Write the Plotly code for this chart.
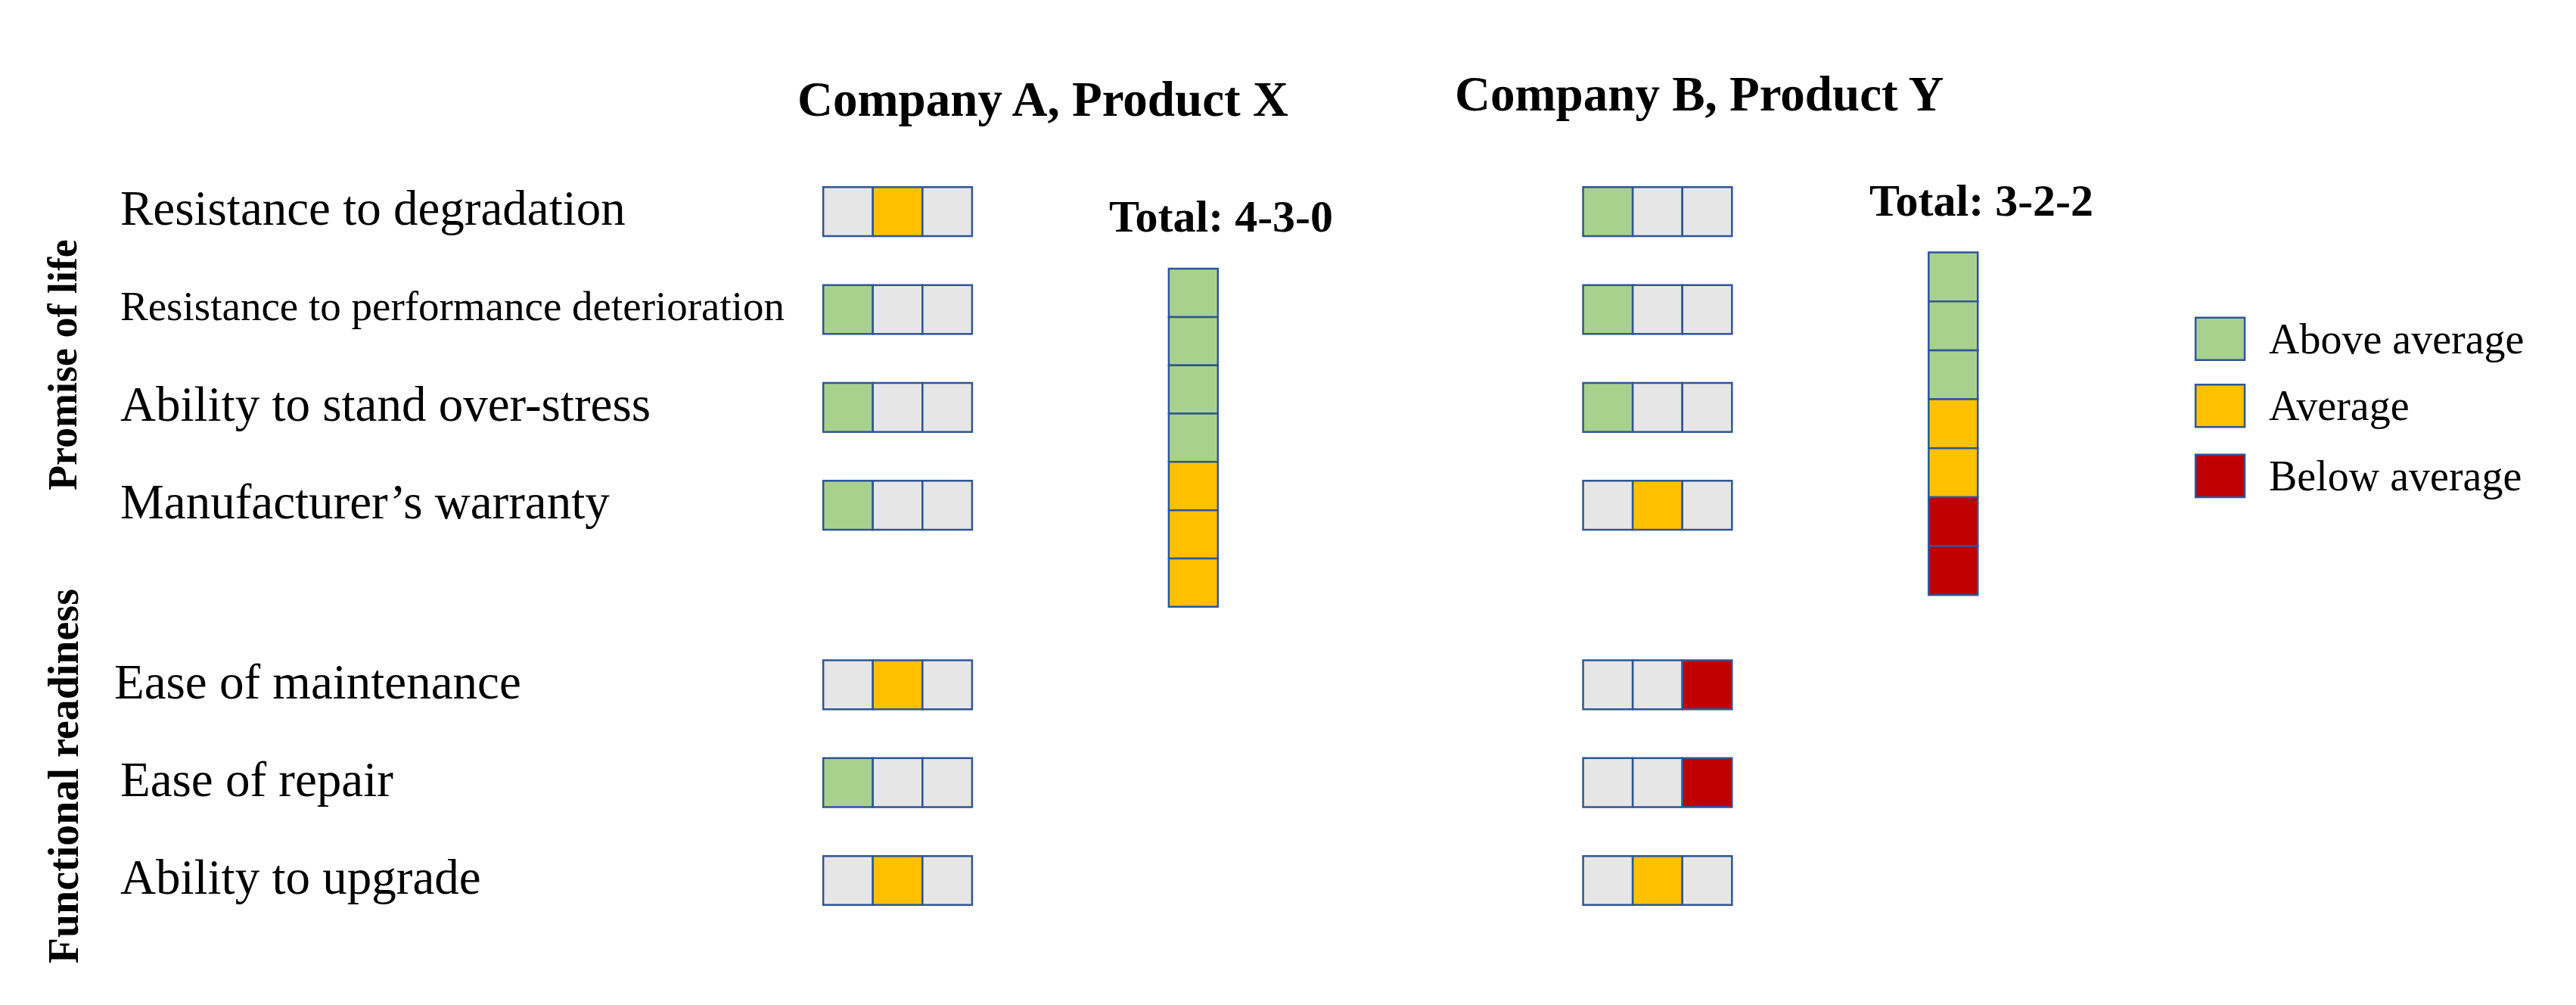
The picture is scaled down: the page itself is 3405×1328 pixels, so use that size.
import plotly.graph_objects as go

criteria = ["Resistance to degradation", "Resistance to performance deterioration",
            "Ability to stand over-stress", "Manufacturer’s warranty",
            "Ease of maintenance", "Ease of repair", "Ability to upgrade"]
groups = ["Promise of life", "Functional readiness"]
# rating index: 0 = Above average, 1 = Average, 2 = Below average
rating_A = [1, 0, 0, 0, 1, 0, 1]
rating_B = [0, 0, 0, 1, 2, 2, 1]
companies = ["Company A, Product X", "Company B, Product Y"]
legend_labels = ["Above average", "Average", "Below average"]
colors = ["#A9D18E", "#FFC000", "#C00000"]
empty = "#E7E6E6"
border = "#2F5597"

W, H = 1573, 616
DX = -3
row_y = [126, 186, 246, 306, 416, 476, 536]
label_x = [72, 72, 72, 72, 68, 72, 72]
grid_x = [502, 966]
stack_x = [713, 1177]
stack_top = [161, 151]
stack_h = [29.6, 30]
cw, ch = 30.3, 30

fig = go.Figure()
shapes, ann = [], []
F = "Liberation Serif"

def rect(x0, y0, x1, y1, c):
    shapes.append(dict(type="rect", xref="x", yref="y", x0=x0 + DX, y0=y0, x1=x1 + DX, y1=y1,
                       fillcolor=c, line=dict(color=border, width=2.5)))

def text(x, y, t, size, **kw):
    d = dict(x=x + DX, y=y, text=t, font=dict(size=size, family=F, color="black"))
    d.update(kw)
    ann.append(d)

for gi, ratings in enumerate([rating_A, rating_B]):
    for r, val in enumerate(ratings):
        for k in range(3):
            x0 = grid_x[gi] + k * cw
            rect(x0, row_y[r] - ch / 2, x0 + cw, row_y[r] + ch / 2, colors[k] if k == val else empty)
    counts = [ratings.count(k) for k in range(3)]
    seq = [k for k in range(3) for _ in range(counts[k])]
    for i, k in enumerate(seq):
        y0 = stack_top[gi] + i * stack_h[gi]
        rect(stack_x[gi], y0, stack_x[gi] + 30, y0 + stack_h[gi], colors[k])
    text(stack_x[gi] + 32, stack_top[gi] - 32,
         "<b>Total: " + "-".join(str(c) for c in counts) + "</b>", 60)

text(636, 57, "<b>" + companies[0] + "</b>", 65)
text(1037, 54, "<b>" + companies[1] + "</b>", 65)

for r, c in enumerate(criteria):
    size = 55 if r == 1 else 65
    text(label_x[r], row_y[r] - 2, c, size, xanchor="left")

text(38, 220, "<b>" + groups[0] + "</b>", 54, textangle=-90)
text(38, 472, "<b>" + groups[1] + "</b>", 56, textangle=-90)

leg_y = [204, 245, 288]
for k, lab in enumerate(legend_labels):
    rect(1340, leg_y[k] - 13, 1370, leg_y[k] + 13, colors[k])
    text(1384, leg_y[k], lab, 56, xanchor="left")

for a in ann:
    a.update(xref="x", yref="y", showarrow=False)

fig.update_layout(width=3405, height=1328, margin=dict(l=0, r=0, t=0, b=0),
                  paper_bgcolor="white", plot_bgcolor="white", shapes=shapes, annotations=ann,
                  xaxis=dict(range=[0, W], visible=False, fixedrange=True),
                  yaxis=dict(range=[H, 0], visible=False, fixedrange=True),
                  showlegend=False)
fig.write_html("out.html")
